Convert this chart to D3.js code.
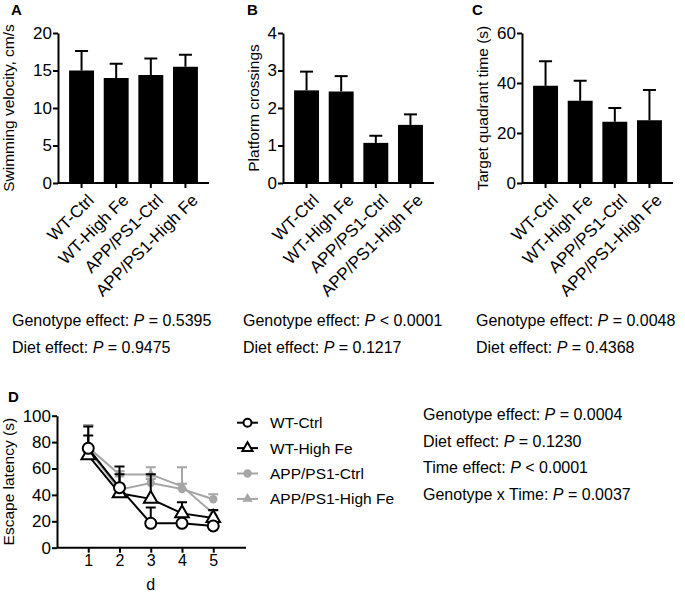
<!DOCTYPE html>
<html>
<head>
<meta charset="utf-8">
<script src="https://cdn.jsdelivr.net/npm/d3@7"></script>
<style>
  body { margin: 0; background: #fff; }
  svg { font-family: Arial, "Liberation Sans", sans-serif; }
  .axis path, .axis line { stroke: #000; stroke-width: 2px; }
  .axis text { font-size: 17px; fill: #000; }
</style>
</head>
<body>
<div id="fig"></div>
<script>
var groups = ["WT-Ctrl", "WT-High Fe", "APP/PS1-Ctrl", "APP/PS1-High Fe"];

var velocity = [15.0, 14.0, 14.4, 15.5];
var velocityErr = [2.6, 1.9, 2.2, 1.6];
var crossings = [2.47, 2.44, 1.07, 1.55];
var crossingsErr = [0.50, 0.41, 0.19, 0.28];
var quadrant = [38.9, 32.9, 24.5, 25.1];
var quadrantErr = [9.8, 8.0, 5.5, 12.1];

var days = [1, 2, 3, 4, 5];
var wtCtrl = [75.3, 45.5, 18.5, 18.5, 16.5];
var wtCtrlErr = [16.5, 16.0, 12.0, 2.0, 2.0];
var wtHigh = [70.0, 41.2, 37.0, 26.0, 22.5];
var wtHighErr = [15.0, 14.4, 18.6, 8.4, 6.0];
var appCtrl = [74.0, 44.0, 49.0, 44.5, 36.7];
var appCtrlErr = [19.0, 3.0, 3.0, 16.5, 3.7];
var appHigh = [76.0, 55.5, 55.5, 46.5, 26.0];
var appHighErr = [17.0, 2.5, 5.5, 2.0, 2.0];

var pTextsA = [["Genotype effect: ", "=", "0.5395"], ["Diet effect: ", "=", "0.9475"]];
var pTextsB = [["Genotype effect: ", "<", "0.0001"], ["Diet effect: ", "=", "0.1217"]];
var pTextsC = [["Genotype effect: ", "=", "0.0048"], ["Diet effect: ", "=", "0.4368"]];
var pTextsD = [["Genotype effect: ", "=", "0.0004"], ["Diet effect: ", "=", "0.1230"],
               ["Time effect: ", "<", "0.0001"], ["Genotype x Time: ", "=", "0.0037"]];

var grey = "#a6a6a6";

var svg = d3.select("#fig").append("svg")
    .attr("width", 685)
    .attr("height", 599);

function pText(x, y, lines, gap) {
    lines.forEach(function (l, i) {
        var t = svg.append("text")
            .attr("x", x).attr("y", y + i * gap)
            .style("font-size", "16px");
        t.append("tspan").text(l[0]);
        t.append("tspan").style("font-style", "italic").text("P");
        t.append("tspan").text(" " + l[1] + " " + l[2]);
    });
}

function panelLetter(x, y, s) {
    svg.append("text").attr("x", x).attr("y", y)
        .style("font-size", "15px").style("font-weight", "bold").text(s);
}

function barPanel(left, values, errs, yMax, yStep, title, titleX, letter, letterX) {
    var top = 33, bottom = 183, width = 151;
    var g = svg.append("g").attr("transform", "translate(" + left + ",0)");

    var x = d3.scaleBand().domain(groups).range([0, width])
        .paddingInner(0.28).paddingOuter(0.32);
    var y = d3.scaleLinear().domain([0, yMax]).range([bottom, top]);

    var data = groups.map(function (gname, i) {
        return { label: gname, value: values[i], err: errs[i] };
    });

    g.selectAll(".bar").data(data).enter().append("rect")
        .attr("x", function (d) { return x(d.label); })
        .attr("width", x.bandwidth())
        .attr("y", function (d) { return y(d.value); })
        .attr("height", function (d) { return bottom - y(d.value); })
        .attr("fill", "#000");

    var eb = g.selectAll(".err").data(data).enter().append("g")
        .attr("stroke", "#000").attr("stroke-width", 2);
    eb.append("line")
        .attr("x1", function (d) { return x(d.label) + x.bandwidth() / 2; })
        .attr("x2", function (d) { return x(d.label) + x.bandwidth() / 2; })
        .attr("y1", function (d) { return y(d.value); })
        .attr("y2", function (d) { return y(d.value + d.err); });
    eb.append("line")
        .attr("x1", function (d) { return x(d.label) + x.bandwidth() / 2 - 6.5; })
        .attr("x2", function (d) { return x(d.label) + x.bandwidth() / 2 + 6.5; })
        .attr("y1", function (d) { return y(d.value + d.err); })
        .attr("y2", function (d) { return y(d.value + d.err); });

    g.append("g").attr("class", "axis")
        .call(d3.axisLeft(y).ticks(yMax / yStep).tickSize(5).tickPadding(1).tickSizeOuter(0));

    var xa = g.append("g").attr("class", "axis")
        .attr("transform", "translate(0," + bottom + ")")
        .call(d3.axisBottom(x).tickSize(5).tickSizeOuter(0));
    xa.selectAll("text")
        .style("font-size", "17px")
        .style("text-anchor", "end")
        .attr("dx", "-0.2em").attr("dy", "0.85em")
        .attr("transform", "rotate(-45)");
    xa.select(".domain").attr("d", "M0,0H" + width);

    svg.append("text")
        .attr("transform", "translate(" + titleX + "," + (top + bottom) / 2 + ") rotate(-90)")
        .style("text-anchor", "middle").style("font-size", "15.5px")
        .text(title);
    panelLetter(letterX, 15, letter);
}

barPanel(58, velocity, velocityErr, 20, 5, "Swimming velocity, cm/s", 14, "A", 11);
barPanel(283, crossings, crossingsErr, 4, 1, "Platform crossings", 259, "B", 247);
barPanel(522, quadrant, quadrantErr, 60, 20, "Target quadrant time (s)", 488, "C", 472);

pText(12, 326, pTextsA, 27);
pText(243, 326, pTextsB, 27);
pText(476, 326, pTextsC, 27);

// Panel D: escape latency
var dx = d3.scaleLinear().domain([0, 6]).range([57, 244.5]);
var dy = d3.scaleLinear().domain([0, 100]).range([547.7, 415.7]);

var series = [
    { name: "APP/PS1-High Fe", vals: appHigh, errs: appHighErr, color: grey, shape: "tri", filled: true },
    { name: "APP/PS1-Ctrl", vals: appCtrl, errs: appCtrlErr, color: grey, shape: "circle", filled: true },
    { name: "WT-High Fe", vals: wtHigh, errs: wtHighErr, color: "#000", shape: "tri", filled: false },
    { name: "WT-Ctrl", vals: wtCtrl, errs: wtCtrlErr, color: "#000", shape: "circle", filled: false }
];

function marker(sel, s) {
    if (s.shape === "circle") {
        sel.append("circle").attr("r", s.filled ? 4.2 : 5.5)
            .attr("fill", s.filled ? s.color : "#fff")
            .attr("stroke", s.color).attr("stroke-width", s.filled ? 0 : 2);
    } else {
        var size = s.filled ? 45 : 80;
        sel.append("path")
            .attr("d", d3.symbol().type(d3.symbolTriangle).size(size)())
            .attr("fill", s.filled ? s.color : "#fff")
            .attr("stroke", s.color).attr("stroke-width", s.filled ? 0 : 2);
    }
}

var line = d3.line()
    .x(function (d) { return dx(d.day); })
    .y(function (d) { return dy(d.v); });

series.forEach(function (s) {
    var pts = days.map(function (d, i) { return { day: d, v: s.vals[i], e: s.errs[i] }; });
    var g = svg.append("g");
    g.selectAll(".e").data(pts).enter().append("path")
        .attr("d", function (d) {
            var xx = dx(d.day), y0 = dy(d.v), y1 = dy(d.v + d.e);
            return "M" + xx + "," + y0 + "V" + y1 + "M" + (xx - 5) + "," + y1 + "H" + (xx + 5);
        })
        .attr("stroke", s.color).attr("stroke-width", 2).attr("fill", "none");
    g.append("path").datum(pts).attr("d", line)
        .attr("fill", "none").attr("stroke", s.color).attr("stroke-width", 2);
    g.selectAll(".m").data(pts).enter().append("g")
        .attr("transform", function (d) { return "translate(" + dx(d.day) + "," + dy(d.v) + ")"; })
        .each(function () { marker(d3.select(this), s); });
});

svg.append("g").attr("class", "axis")
    .attr("transform", "translate(57,0)")
    .call(d3.axisLeft(dy).ticks(5).tickSize(5).tickPadding(1).tickSizeOuter(0));
var dxa = svg.append("g").attr("class", "axis")
    .attr("transform", "translate(0,547.7)")
    .call(d3.axisBottom(dx).tickValues(days).tickFormat(d3.format("d")).tickSize(5).tickPadding(2).tickSizeOuter(0));
dxa.selectAll("text").style("font-size", "16px");
dxa.select(".domain").attr("d", "M57,0H246");

svg.append("text").attr("x", (57 + 244.5) / 2).attr("y", 590)
    .style("text-anchor", "middle").style("font-size", "16px").text("d");
svg.append("text")
    .attr("transform", "translate(14,481.7) rotate(-90)")
    .style("text-anchor", "middle").style("font-size", "15.5px")
    .text("Escape latency (s)");
panelLetter(8, 402, "D");

// legend
var legendOrder = ["WT-Ctrl", "WT-High Fe", "APP/PS1-Ctrl", "APP/PS1-High Fe"];
legendOrder.forEach(function (name, i) {
    var s = series.filter(function (d) { return d.name === name; })[0];
    var yy = 422.7 + i * 25.4;
    var lg = svg.append("g");
    lg.append("line").attr("x1", 237).attr("x2", 258).attr("y1", yy).attr("y2", yy)
        .attr("stroke", s.color).attr("stroke-width", 2);
    var m = lg.append("g").attr("transform", "translate(247.5," + yy + ")");
    if (s.filled) marker(m, s);
    else if (s.shape === "circle") {
        m.append("circle").attr("r", 4).attr("fill", "#fff").attr("stroke", s.color).attr("stroke-width", 2);
    } else {
        m.append("path").attr("d", d3.symbol().type(d3.symbolTriangle).size(45)())
            .attr("fill", "#fff").attr("stroke", s.color).attr("stroke-width", 2);
    }
    svg.append("text").attr("x", 270).attr("y", yy + 5.5)
        .style("font-size", "15.5px").text(name);
});

pText(423, 420, pTextsD, 26.7);
</script>
</body>
</html>
